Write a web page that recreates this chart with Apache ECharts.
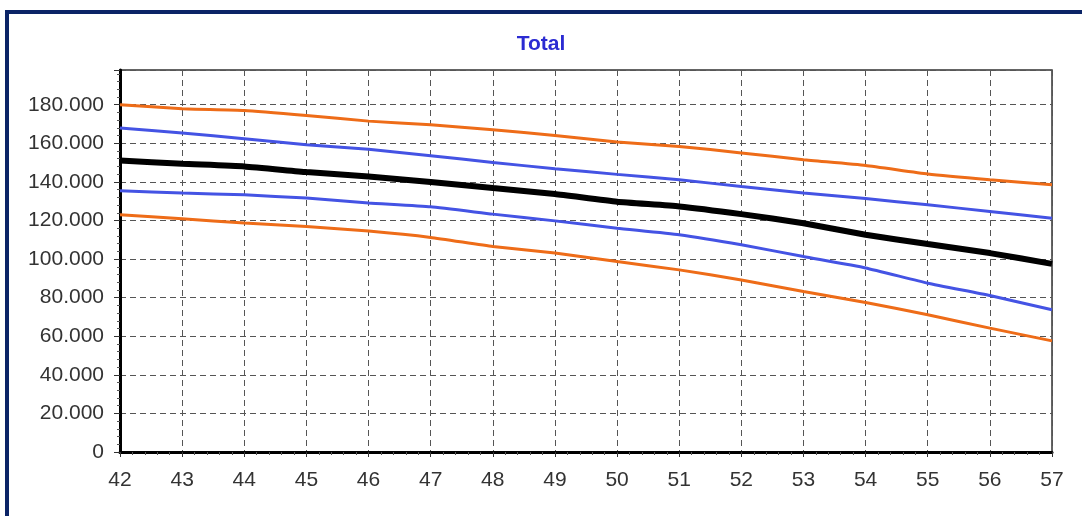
<!DOCTYPE html>
<html>
<head>
<meta charset="utf-8">
<script src="https://cdn.jsdelivr.net/npm/echarts@6/dist/echarts.min.js"></script>
<style>
html,body{margin:0;padding:0;background:#fff;}
#c{width:1082px;height:516px;}
</style>
</head>
<body>
<div id="c"></div>
<script>
var xValues = [42,43,44,45,46,47,48,49,50,51,52,53,54,55,56,57];
var upperOrange = [180000,177950,177070,174470,171500,169600,167000,164100,160700,158400,155000,151500,148500,144100,141100,138500];
var upperBlue   = [167930,165340,162380,159270,156900,153600,150100,146800,143900,141100,137600,134200,131400,128100,124700,121200];
var totalLine   = [151130,149410,148000,145100,142800,139900,136800,133700,129700,127300,123300,118600,112600,107800,103100,97500];
var lowerBlue   = [135400,134200,133300,131600,129100,127100,123300,119800,116000,112600,107400,101300,95400,87500,81100,73700];
var lowerOrange = [122950,120900,118650,116900,114500,111200,106500,103100,98700,94400,89200,83200,77500,71100,64200,57600];
var yTicks = [0,20000,40000,60000,80000,100000,120000,140000,160000,180000];
var titleText = 'Total';

function pairs(arr){ return xValues.map(function(x,i){ return [x, arr[i]]; }); }
function fmt(v){
  if (yTicks.indexOf(v) < 0) return '';
  if (v === 0) return '0';
  return String(v).replace(/\B(?=(\d{3})+(?!\d))/g, '.');
}

var chart = echarts.init(document.getElementById('c'), null, {renderer:'canvas'});
var ORANGE = '#ee6c18', BLUE = '#4453e4';
function line(name, arr, color, w, z){
  return {name:name, type:'line', data:pairs(arr), showSymbol:false, symbol:'none',
    smooth:0.15, lineStyle:{color:color, width:w}, z:z, animation:false};
}
chart.setOption({
  backgroundColor:'#ffffff',
  animation:false,
  title:{text:titleText, left:'center', top:29,
    textStyle:{color:'#2b2bd2', fontFamily:'Liberation Sans', fontWeight:'bold', fontSize:21}},
  graphic:[{type:'rect', shape:{x:7, y:12, width:1200, height:700},
    style:{fill:'none', stroke:'#0b2466', lineWidth:4}, z:100, silent:true}],
  grid:{left:120, right:30, top:70, bottom:64, show:true, borderColor:'#333', borderWidth:1.5, backgroundColor:'#fff'},
  xAxis:{type:'value', min:42, max:57, interval:1,
    axisLine:{show:true, onZero:false, lineStyle:{color:'#000', width:3}},
    axisTick:{show:true, length:5, inside:false, lineStyle:{color:'#333', width:1}},
    minorTick:{show:true, splitNumber:5, length:3, lineStyle:{color:'#555', width:1}},
    axisLabel:{margin:18, color:'#333', fontFamily:'Liberation Sans', fontSize:21},
    splitLine:{show:true, lineStyle:{color:'#555', width:1, type:[6,4]}}},
  yAxis:{type:'value', min:0, max:198000, interval:20000,
    axisLine:{show:true, lineStyle:{color:'#000', width:3}},
    axisTick:{show:true, length:6, lineStyle:{color:'#333', width:1}},
    minorTick:{show:true, splitNumber:5, length:3, lineStyle:{color:'#555', width:1}},
    axisLabel:{margin:16, color:'#333', fontFamily:'Liberation Sans', fontSize:21, formatter:fmt},
    splitLine:{show:true, lineStyle:{color:'#555', width:1, type:[6,4]}}},
  series:[
    line('Upper orange', upperOrange, ORANGE, 3, 2),
    line('Upper blue', upperBlue, BLUE, 3, 3),
    line('Lower blue', lowerBlue, BLUE, 3, 3),
    line('Lower orange', lowerOrange, ORANGE, 3, 2),
    line('Total', totalLine, '#000', 6, 4)
  ]
});
</script>
</body>
</html>
